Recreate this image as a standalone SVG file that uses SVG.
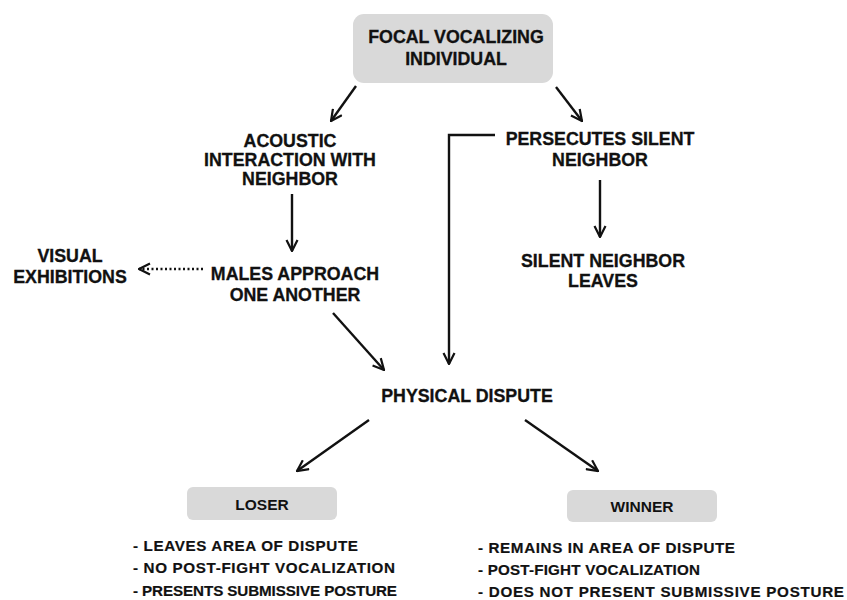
<svg xmlns="http://www.w3.org/2000/svg" width="847" height="600" viewBox="0 0 847 600">
<style>
.t{font-family:"Liberation Sans",Arial,sans-serif;font-weight:bold;font-size:17.8px;fill:#111;stroke:#111;stroke-width:0.3;text-anchor:middle}
.s{font-family:"Liberation Sans",Arial,sans-serif;font-weight:bold;font-size:15.5px;fill:#111;text-anchor:middle}
.l{font-family:"Liberation Sans",Arial,sans-serif;font-weight:bold;font-size:15.2px;fill:#111;stroke:#111;stroke-width:0.2}
.box{fill:#d9d9d9}
.c{stroke:#111;stroke-width:2.4;fill:none}
</style>
<defs>
<marker id="ah" viewBox="0 0 12 12" refX="11" refY="6" markerWidth="5.5" markerHeight="5.5" markerUnits="strokeWidth" orient="auto">
<path d="M1,1 L11,6 L1,11" fill="none" stroke="#111" stroke-width="2"/>
</marker>
</defs>
<rect width="847" height="600" fill="#fff"/>
<g id="connectors">
<line class="c" x1="356" y1="86" x2="331" y2="121" marker-end="url(#ah)"/>
<line class="c" x1="556" y1="87" x2="582" y2="121" marker-end="url(#ah)"/>
<line class="c" x1="292" y1="194" x2="292" y2="251" marker-end="url(#ah)"/>
<line class="c" x1="600" y1="180" x2="600" y2="237" marker-end="url(#ah)"/>
<line class="c" x1="203" y1="269" x2="139" y2="269" stroke-dasharray="2,2.5" marker-end="url(#ah)"/>
<polyline class="c" points="495,135 449,135 449,364" marker-end="url(#ah)"/>
<line class="c" x1="333" y1="313" x2="384" y2="370" marker-end="url(#ah)"/>
<line class="c" x1="369" y1="420" x2="297" y2="471" marker-end="url(#ah)"/>
<line class="c" x1="525" y1="420" x2="598" y2="471" marker-end="url(#ah)"/>
</g>
<g id="focal">
<rect class="box" x="353" y="14" width="200" height="69" rx="11"/>
<text class="t" x="456" y="43">FOCAL VOCALIZING</text>
<text class="t" x="456" y="65">INDIVIDUAL</text>
</g>
<g id="acoustic">
<text class="t" x="290" y="147">ACOUSTIC</text>
<text class="t" x="290" y="166">INTERACTION WITH</text>
<text class="t" x="290" y="185">NEIGHBOR</text>
</g>
<g id="persecutes">
<text class="t" x="600" y="145">PERSECUTES SILENT</text>
<text class="t" x="600" y="166">NEIGHBOR</text>
</g>
<g id="silent">
<text class="t" x="603" y="267">SILENT NEIGHBOR</text>
<text class="t" x="603" y="287">LEAVES</text>
</g>
<g id="males">
<text class="t" x="295" y="280">MALES APPROACH</text>
<text class="t" x="295" y="301">ONE ANOTHER</text>
</g>
<g id="visual">
<text class="t" x="70" y="262">VISUAL</text>
<text class="t" x="70" y="283">EXHIBITIONS</text>
</g>
<g id="physical">
<text class="t" x="467" y="402">PHYSICAL DISPUTE</text>
</g>
<g id="loser">
<rect class="box" x="187" y="487" width="150" height="33" rx="6"/>
<text class="s" x="262" y="510">LOSER</text>
<text class="l" x="133" y="551" textLength="225" lengthAdjust="spacing">- LEAVES AREA OF DISPUTE</text>
<text class="l" x="133" y="573" textLength="262" lengthAdjust="spacing">- NO POST-FIGHT VOCALIZATION</text>
<text class="l" x="133" y="596" textLength="264" lengthAdjust="spacing">- PRESENTS SUBMISSIVE POSTURE</text>
</g>
<g id="winner">
<rect class="box" x="567" y="490" width="150" height="32" rx="6"/>
<text class="s" x="642" y="512">WINNER</text>
<text class="l" x="478" y="553" textLength="257" lengthAdjust="spacing">- REMAINS IN AREA OF DISPUTE</text>
<text class="l" x="478" y="575" textLength="222" lengthAdjust="spacing">- POST-FIGHT VOCALIZATION</text>
<text class="l" x="478" y="597" textLength="366" lengthAdjust="spacing">- DOES NOT PRESENT SUBMISSIVE POSTURE</text>
</g>
</svg>
